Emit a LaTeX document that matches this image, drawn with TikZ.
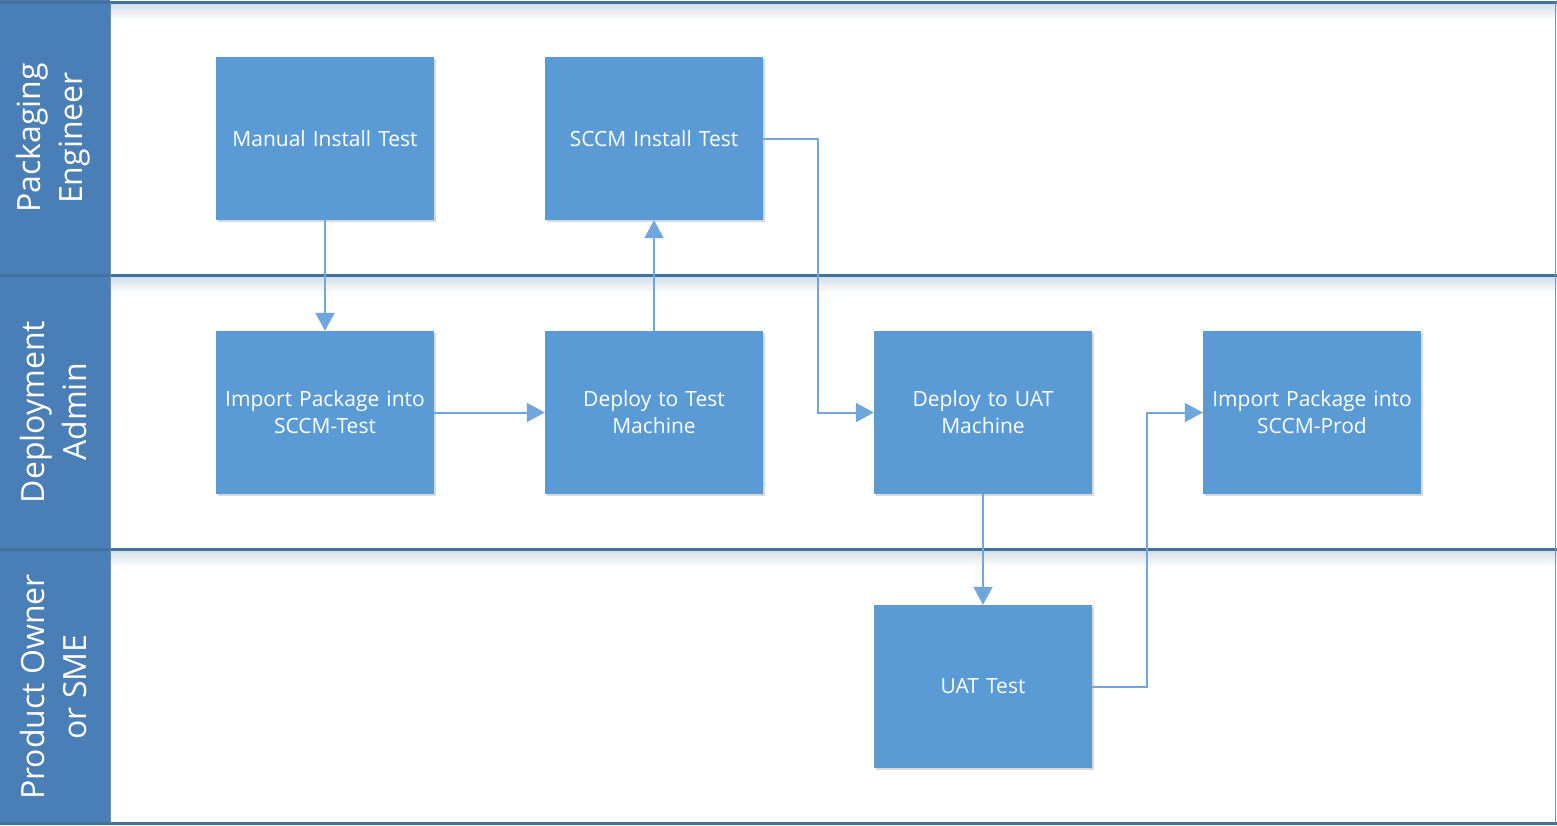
\documentclass[tikz,border=0pt]{standalone}
\usepackage{fontspec}
\setmainfont{Open Sans}
\usetikzlibrary{arrows.meta,shadows}
\definecolor{boxblue}{HTML}{5B9BD5}
\definecolor{headblue}{HTML}{4A7EB6}
\definecolor{laneline}{HTML}{41719C}
\definecolor{connblue}{HTML}{6FA6DB}
\tikzset{
  stepbox/.style={draw=none, fill=boxblue, minimum width=218pt, minimum height=163pt,
    text width=210pt, align=center, text=white, font=\fontsize{21}{27}\selectfont,
    drop shadow={shadow xshift=1.5pt, shadow yshift=-1.5pt, opacity=0.25, fill=black!60}},
  lanehead/.style={text=white, align=center, font=\fontsize{32}{42}\selectfont, rotate=90},
  conn/.style={draw=connblue, line width=2pt, -{Triangle[length=18pt,width=19pt]}},
  laneborder/.style={draw=laneline, line width=3pt}
}
\begin{document}
\begin{tikzpicture}[x=1pt,y=-1pt]
\useasboundingbox (0,0) rectangle (1557,825);
\fill[white] (0,0) rectangle (1557,825);
% header column
\fill[headblue] (0,0) rectangle (110,825);
% subtle shading below lane borders
\foreach \yy in {2,275,549}{
  \shade[top color=laneline!25, bottom color=white] (110,\yy) rectangle (1557,\yy+18);
}
% lane borders
\draw[laneborder] (0,2) -- (1557,2);
\draw[laneborder] (0,275) -- (1557,275);
\draw[laneborder] (0,549) -- (1557,549);
\draw[laneborder] (0,823) -- (1557,823);
\draw[draw=boxblue, line width=1.5pt] (1555.5,2) -- (1555.5,823);
\draw[draw=laneline!80, line width=1pt] (110,2) -- (110,823);
% lane headers
\node[lanehead] (h1) at (53,138) {Packaging\\Engineer};
\node[lanehead] (h2) at (53,412) {Deployment\\Admin};
\node[lanehead] (h3) at (53,687) {Product Owner\\or SME};
% boxes
\node[stepbox] (mit) at (325,138.5) {Manual Install Test};
\node[stepbox] (sit) at (654,138.5) {SCCM Install Test};
\node[stepbox] (ipt) at (325,412.5) {Import Package into\\SCCM-Test};
\node[stepbox] (dtm) at (654,412.5) {Deploy to Test\\Machine};
\node[stepbox] (dum) at (983,412.5) {Deploy to UAT\\Machine};
\node[stepbox] (ipp) at (1312,412.5) {Import Package into\\SCCM-Prod};
\node[stepbox] (uat) at (983,686.5) {UAT Test};
% connectors
\draw[conn] (mit.south) -- (ipt.north);
\draw[conn] (ipt.east) -- (dtm.west);
\draw[conn] (dtm.north) -- (sit.south);
\draw[conn] (sit.east) -- (818,138.5) -- (818,412.5) -- (dum.west);
\draw[conn] (dum.south) -- (uat.north);
\draw[conn] (uat.east) -- (1147,686.5) -- (1147,412.5) -- (ipp.west);
\end{tikzpicture}
\end{document}
